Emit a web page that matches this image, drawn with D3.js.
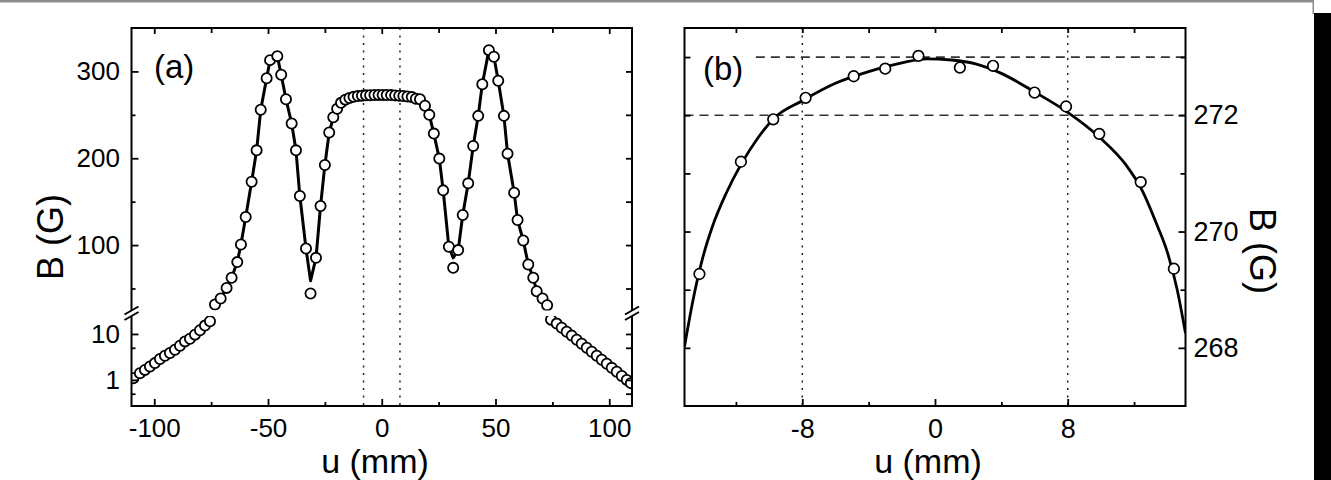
<!DOCTYPE html>
<html>
<head>
<meta charset="utf-8">
<script src="https://cdn.jsdelivr.net/npm/d3@7"></script>
<style>
  body { margin: 0; background: #fff; }
  svg { display: block; font-family: 'Liberation Sans', Arial, sans-serif; }
</style>
</head>
<body>
<script>
// panel (a), linear part: measured points, joined by the line
const upperU = [-73.3, -70.8, -68.2, -66.0, -63.5, -61.9, -59.8, -57.2, -55.0, -53.2,
  -50.6, -49.1, -45.9, -44.2, -42.1, -39.6, -37.7, -36.0, -33.3, -31.3,
  -28.9, -26.9, -25.0, -23.1, -21.3, -19.6, -17.9,
  -16.0, -14.2, -12.4, -10.5, -8.7, -6.9, -5.1, -3.2, -1.4, 0.4,
  2.2, 4.1, 5.9, 7.7, 9.5, 11.3, 13.2, 15.0,
  16.8, 19.0, 20.9, 22.9, 25.3, 27.0, 29.5, 31.4, 33.6, 35.6,
  38.0, 40.2, 42.4, 44.2, 47.1, 49.3, 51.2, 53.7, 55.3, 58.2,
  59.7, 62.2, 64.4, 66.6, 68.1, 70.7, 72.7];
const upperB = [31.5, 38.4, 50.7, 62.3, 80.4, 100.7, 132.3, 173.0, 209.1, 255.8,
  292.2, 313.0, 317.6, 296.2, 268.0, 240.0, 209.1, 156.5, 96.1, 44.2,
  85.3, 145.0, 192.3, 229.6, 247.2, 256.9, 263.8,
  267.5, 269.3, 270.7, 271.6, 272.1, 272.45, 272.65, 272.8, 272.95, 272.95,
  272.85, 272.7, 272.4, 272.1, 271.7, 271.2, 270.4, 268.5,
  268.0, 260.4, 250.0, 228.4, 199.6, 163.0, 98.0, 73.8, 94.2, 134.6,
  171.1, 214.2, 248.8, 285.3, 324.5, 316.9, 289.2, 248.8, 205.3, 160.3,
  128.8, 105.3, 77.6, 62.3, 46.9, 38.4, 30.8];
// the line does not reach down to the two dip points
const lineTipU = [-31.3, 31.4];
const lineTipB = [58.8, 85.3];

// panel (a), log part: the two tails
const tailLeftU = [-109.2, -106.3, -104.1, -101.9, -99.7, -97.5, -95.3, -93.1,
  -90.9, -88.7, -86.5, -84.3, -82.1, -79.9, -77.7, -75.5];
const tailLeftB = [1.09, 1.40, 1.65, 1.95, 2.32, 2.84, 3.35, 3.84,
  4.53, 5.55, 6.89, 7.89, 9.66, 12.0, 15.2, 18.9];
const tailRightU = [74.4, 76.9, 79.1, 81.3, 83.5, 85.7, 87.9, 90.1, 92.3,
  94.5, 96.7, 98.9, 101.1, 103.3, 105.5, 107.7, 109.5];
const tailRightB = [20.5, 16.8, 13.7, 11.2, 9.2, 7.5, 6.1, 5.0, 4.1,
  3.35, 2.74, 2.24, 1.83, 1.50, 1.22, 1.0, 0.85];

// panel (b): points and fitted curve
const zoomU = [-14.2, -11.7, -9.75, -7.8, -4.9, -3.0, -1.0, 1.5, 3.5, 6.0, 7.9, 9.9, 12.4, 14.4];
const zoomB = [269.27, 271.2, 271.93, 272.3, 272.67, 272.8, 273.02, 272.82, 272.85,
  272.39, 272.15, 271.68, 270.85, 269.36];
const fitU = [-15.1, -14.6, -14.0, -13.4, -12.6, -11.7, -10.7, -9.7, -8.0, -6.0, -4.0,
  -2.0, -0.5, 1.0, 2.5, 4.0, 6.0, 8.0, 10.0, 11.5, 12.5, 13.4, 14.0, 14.6, 15.1];
const fitB = [268.02, 268.8, 269.55, 270.1, 270.65, 271.15, 271.6, 271.95, 272.25, 272.55, 272.75,
  272.9, 272.97, 272.95, 272.88, 272.72, 272.4, 272.05, 271.6, 271.15, 270.7, 270.1, 269.65, 269.0, 268.25];

// ticks and guide lines
const aTicksX = [-100, -50, 0, 50, 100];
const aMinorX = [-75, -25, 25, 75];
const aTicksUpper = [100, 200, 300];
const aMinorUpper = [50, 150, 250];
const aTicksLower = [1, 10];
const aMinorLower = [0.5, 5];
const bTicksX = [-8, 0, 8];
const bMinorX = [-12, -4, 4, 12];
const bTicksY = [268, 270, 272];
const bMinorY = [269, 271, 273];
const markerU = [-8, 8];
const dashB = [272, 273];
const dashFromU = [-15.1, -10.8];

const plain = d => String(d); // hyphen-minus, as in the figure

const svg = d3.select('body').append('svg')
  .attr('width', 1331)
  .attr('height', 480);

svg.append('rect').attr('width', 1331).attr('height', 480).attr('fill', '#fff');

// page edge decorations
svg.append('rect').attr('x', 0).attr('y', 0).attr('width', 1314).attr('height', 2.5).attr('fill', '#8c8c8c');
svg.append('rect').attr('x', 1312.5).attr('y', 0).attr('width', 1.5).attr('height', 14).attr('fill', '#8c8c8c');
svg.append('rect').attr('x', 1314).attr('y', 13).attr('width', 17).attr('height', 467).attr('fill', '#000');

const defs = svg.append('defs');
function clip(id, x, y, w, h) {
  defs.append('clipPath').attr('id', id)
    .append('rect').attr('x', x).attr('y', y).attr('width', w).attr('height', h);
  return `url(#${id})`;
}

function tickAxis(g, axis, size) {
  g.call(axis);
  g.select('.domain').remove();
  g.attr('font-family', null).attr('font-size', null);
  g.selectAll('line').attr('stroke', '#000').attr('stroke-width', 1.8);
  g.selectAll('text').attr('fill', '#000').attr('font-size', size);
}

// ---------------- panel (a) ----------------
const aL = 131.5, aR = 632, aT = 28, aB = 406, gapTop = 310.5, gapBot = 316;

const xa = d3.scaleLinear().domain([-110, 110]).range([aL, aR]);
const yUp = d3.scaleLinear().domain([25, 350]).range([310.2, aT]);
const yLow = d3.scaleLog().domain([0.27, 24]).range([aB, 316.5]);

const pa = svg.append('g');

pa.selectAll('.vdot').data(markerU).enter().append('line')
  .attr('x1', d => xa(d)).attr('x2', d => xa(d))
  .attr('y1', aT).attr('y2', aB)
  .attr('stroke', '#222').attr('stroke-width', 1.5)
  .attr('stroke-dasharray', '2,5.5');

const upper = upperU.map((u, i) => ({ u: u, b: upperB[i] }));
const lineData = upper.map(d => {
  const k = lineTipU.indexOf(d.u);
  return k < 0 ? d : { u: d.u, b: lineTipB[k] };
});

const gUp = pa.append('g').attr('clip-path', clip('clipUp', aL, aT, aR - aL, gapTop - aT));
gUp.append('path')
  .datum(lineData)
  .attr('fill', 'none')
  .attr('stroke', '#000')
  .attr('stroke-width', 3)
  .attr('stroke-linejoin', 'round')
  .attr('d', d3.line().x(d => xa(d.u)).y(d => yUp(d.b)));
gUp.selectAll('circle').data(upper).enter().append('circle')
  .attr('cx', d => xa(d.u)).attr('cy', d => yUp(d.b)).attr('r', 5.1)
  .attr('fill', '#fff').attr('stroke', '#000').attr('stroke-width', 1.8);

const tails = tailLeftU.map((u, i) => ({ u: u, b: tailLeftB[i] }))
  .concat(tailRightU.map((u, i) => ({ u: u, b: tailRightB[i] })));
const gLow = pa.append('g').attr('clip-path', clip('clipLow', aL, gapBot, aR - aL, aB - gapBot + 2));
gLow.selectAll('circle').data(tails).enter().append('circle')
  .attr('cx', d => xa(d.u)).attr('cy', d => yLow(d.b)).attr('r', 5.1)
  .attr('fill', '#fff').attr('stroke', '#000').attr('stroke-width', 1.8);

// ticks (inward on all four sides)
tickAxis(pa.append('g').attr('transform', `translate(0,${aB})`),
  d3.axisBottom(xa).tickValues(aTicksX).tickSize(-7).tickPadding(12.5).tickFormat(plain), 26);
tickAxis(pa.append('g').attr('transform', `translate(0,${aB})`),
  d3.axisBottom(xa).tickValues(aMinorX).tickSize(-4).tickFormat(''), 26);
tickAxis(pa.append('g').attr('transform', `translate(0,${aT})`),
  d3.axisTop(xa).tickValues(aTicksX).tickSize(-6).tickFormat(''), 26);
tickAxis(pa.append('g').attr('transform', `translate(0,${aT})`),
  d3.axisTop(xa).tickValues(aMinorX).tickSize(-5).tickFormat(''), 26);

tickAxis(pa.append('g').attr('transform', `translate(${aL},0)`),
  d3.axisLeft(yUp).tickValues(aTicksUpper).tickSize(-7).tickPadding(11.5).tickFormat(plain), 26);
tickAxis(pa.append('g').attr('transform', `translate(${aL},0)`),
  d3.axisLeft(yUp).tickValues(aMinorUpper).tickSize(-4).tickFormat(''), 26);
tickAxis(pa.append('g').attr('transform', `translate(${aL},0)`),
  d3.axisLeft(yLow).tickValues(aTicksLower).tickSize(-7).tickPadding(11.5).tickFormat(plain), 26);
tickAxis(pa.append('g').attr('transform', `translate(${aL},0)`),
  d3.axisLeft(yLow).tickValues(aMinorLower).tickSize(-4).tickFormat(''), 26);
tickAxis(pa.append('g').attr('transform', `translate(${aR},0)`),
  d3.axisRight(yUp).tickValues(aTicksUpper.concat(aMinorUpper)).tickSize(-6).tickFormat(''), 26);
tickAxis(pa.append('g').attr('transform', `translate(${aR},0)`),
  d3.axisRight(yLow).tickValues(aTicksLower.concat(aMinorLower)).tickSize(-6).tickFormat(''), 26);

// frame with the axis break
const frameA = d3.path();
frameA.moveTo(aL, gapTop); frameA.lineTo(aL, aT); frameA.lineTo(aR, aT); frameA.lineTo(aR, gapTop);
frameA.moveTo(aL, gapBot); frameA.lineTo(aL, aB); frameA.lineTo(aR, aB); frameA.lineTo(aR, gapBot);
pa.append('path').attr('d', frameA.toString())
  .attr('fill', 'none').attr('stroke', '#000').attr('stroke-width', 2);

[aL, aR].forEach(x => {
  [gapTop, gapBot].forEach(y => {
    pa.append('line')
      .attr('x1', x - 7).attr('y1', y + 4)
      .attr('x2', x + 7).attr('y2', y - 4)
      .attr('stroke', '#000').attr('stroke-width', 2);
  });
});

pa.append('text').attr('x', 154).attr('y', 78).attr('font-size', 33).text('(a)');
pa.append('text').attr('x', 375).attr('y', 473).attr('text-anchor', 'middle')
  .attr('font-size', 34).text('u (mm)');
pa.append('text').attr('transform', 'translate(63,237) rotate(-90)')
  .attr('text-anchor', 'middle').attr('font-size', 36).text('B (G)');

// ---------------- panel (b) ----------------
const bL = 684.5, bR = 1185.5, bT = 28, bB = 406;

const xb = d3.scaleLinear().domain([-15.1, 15.1]).range([bL, bR]);
const yb = d3.scaleLinear().domain([267, 273.5]).range([bB, bT]);

const pb = svg.append('g');

pb.selectAll('.hdash').data(dashB).enter().append('line')
  .attr('x1', (d, i) => xb(dashFromU[i])).attr('x2', bR)
  .attr('y1', d => yb(d)).attr('y2', d => yb(d))
  .attr('stroke', '#333').attr('stroke-width', 1.6)
  .attr('stroke-dasharray', '9,6');

pb.selectAll('.vdot').data(markerU).enter().append('line')
  .attr('x1', d => xb(d)).attr('x2', d => xb(d))
  .attr('y1', bT).attr('y2', bB)
  .attr('stroke', '#222').attr('stroke-width', 1.5)
  .attr('stroke-dasharray', '2,5.5');

const gB = pb.append('g').attr('clip-path', clip('clipB', bL, bT, bR - bL, bB - bT));
gB.append('path')
  .datum(fitU.map((u, i) => ({ u: u, b: fitB[i] })))
  .attr('fill', 'none')
  .attr('stroke', '#000')
  .attr('stroke-width', 2.8)
  .attr('d', d3.line().x(d => xb(d.u)).y(d => yb(d.b)).curve(d3.curveMonotoneX));
gB.selectAll('circle').data(zoomU.map((u, i) => ({ u: u, b: zoomB[i] }))).enter().append('circle')
  .attr('cx', d => xb(d.u)).attr('cy', d => yb(d.b)).attr('r', 5.3)
  .attr('fill', '#fff').attr('stroke', '#000').attr('stroke-width', 1.7);

tickAxis(pb.append('g').attr('transform', `translate(0,${bB})`),
  d3.axisBottom(xb).tickValues(bTicksX).tickSize(-7).tickPadding(12.5).tickFormat(plain), 27);
tickAxis(pb.append('g').attr('transform', `translate(0,${bB})`),
  d3.axisBottom(xb).tickValues(bMinorX).tickSize(-4).tickFormat(''), 27);
tickAxis(pb.append('g').attr('transform', `translate(0,${bT})`),
  d3.axisTop(xb).tickValues(bTicksX.concat(bMinorX)).tickSize(-5).tickFormat(''), 27);
tickAxis(pb.append('g').attr('transform', `translate(${bR},0)`),
  d3.axisRight(yb).tickValues(bTicksY).tickSize(-7).tickPadding(8).tickFormat(plain), 27);
tickAxis(pb.append('g').attr('transform', `translate(${bR},0)`),
  d3.axisRight(yb).tickValues(bMinorY).tickSize(-5).tickFormat(''), 27);
tickAxis(pb.append('g').attr('transform', `translate(${bL},0)`),
  d3.axisLeft(yb).tickValues(bTicksY.concat(bMinorY)).tickSize(-6).tickFormat(''), 27);

pb.append('rect')
  .attr('x', bL).attr('y', bT).attr('width', bR - bL).attr('height', bB - bT)
  .attr('fill', 'none').attr('stroke', '#000').attr('stroke-width', 2);

pb.append('text').attr('x', 703).attr('y', 80).attr('font-size', 33).text('(b)');
pb.append('text').attr('x', 928).attr('y', 473).attr('text-anchor', 'middle')
  .attr('font-size', 34).text('u (mm)');
pb.append('text').attr('transform', 'translate(1250,251) rotate(90)')
  .attr('text-anchor', 'middle').attr('font-size', 36).text('B (G)');
</script>
</body>
</html>
